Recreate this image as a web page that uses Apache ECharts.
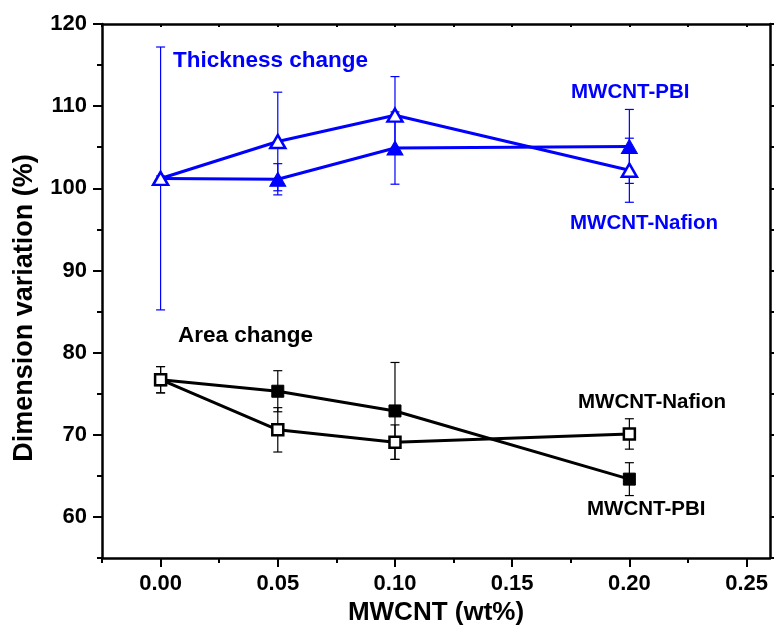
<!DOCTYPE html>
<html>
<head>
<meta charset="utf-8">
<script src="https://cdn.jsdelivr.net/npm/echarts@6/dist/echarts.min.js"></script>
<style>
  html, body { margin: 0; padding: 0; background: #fff; }
  #main { width: 778px; height: 626px; }
</style>
</head>
<body>
<div id="main"></div>
<script>
// MWCNT loading (wt%)
const xs = [0, 0.05, 0.10, 0.20]
// thickness change
const thickPBI = [101.2, 101.1, 104.9, 105.1]
const thickPBIErr = [0.3, 1.9, 4.4, 4.5]
const thickNafion = [101.2, 105.7, 108.9, 102.2]
const thickNafionErr = [16.0, 6.0, 4.7, 3.9]
// area change
const areaPBI = [76.7, 75.3, 72.9, 64.6]
const areaPBIErr = [1.6, 2.5, 5.9, 2.0]
const areaNafion = [76.7, 70.6, 69.1, 70.1]
const areaNafionErr = [1.6, 2.7, 2.1, 1.85]
// ticks
const xMajor = [0, 0.05, 0.10, 0.15, 0.20, 0.25]
const xMinor = [-0.025, 0.025, 0.075, 0.125, 0.175, 0.225]
const yMajor = [60, 70, 80, 90, 100, 110, 120]
const yMinor = [55, 65, 75, 85, 95, 105, 115]

const BLUE = '#0000ff'
const BLACK = '#000000'
const FONT = 'Liberation Sans, Arial, sans-serif'

const pts = (ys) => xs.map((x, i) => [x, ys[i]])
const errs = (ys, es) => xs.map((x, i) => [x, ys[i] - es[i], ys[i] + es[i]])

function errorBars(color, capW) {
  return function(params, api) {
    const x = api.value(0)
    const lo = api.coord([x, api.value(1)])
    const hi = api.coord([x, api.value(2)])
    const st = { stroke: color, lineWidth: 1.2 }
    return {
      type: 'group',
      children: [
        { type: 'line', shape: { x1: lo[0], y1: lo[1], x2: hi[0], y2: hi[1] }, style: st },
        { type: 'line', shape: { x1: hi[0] - capW / 2, y1: hi[1], x2: hi[0] + capW / 2, y2: hi[1] }, style: st },
        { type: 'line', shape: { x1: lo[0] - capW / 2, y1: lo[1], x2: lo[0] + capW / 2, y2: lo[1] }, style: st }
      ]
    }
  }
}

function errSeries(ys, es, color) {
  return {
    type: 'custom',
    renderItem: errorBars(color, 9),
    data: errs(ys, es),
    encode: { x: 0, y: [1, 2] },
    z: 1,
    silent: true
  }
}

function lineSeries(ys, color, symbol, size, filled) {
  return {
    type: 'line',
    data: pts(ys),
    symbol: symbol,
    symbolSize: size,
    showAllSymbol: true,
    lineStyle: { color: color, width: 3 },
    itemStyle: {
      color: filled ? color : '#fff',
      borderColor: color,
      borderWidth: filled ? 1 : 2.5
    },
    z: 3,
    animation: false
  }
}

const axisLine = { show: true, onZero: false, lineStyle: { color: BLACK, width: 2.5 } }
const noLine = { show: false, onZero: false }
const tickLabel = { fontFamily: FONT, fontWeight: 'bold', fontSize: 22, color: BLACK }

const chart = echarts.init(document.getElementById('main'))
chart.setOption({
  animation: false,
  backgroundColor: '#fff',
  grid: { left: 102, right: 8, top: 24, bottom: 68, outerBoundsMode: 'none', containLabel: false },
  xAxis: [
    {
      type: 'value', min: -0.025, max: 0.26, position: 'bottom',
      name: 'MWCNT (wt%)', nameLocation: 'middle', nameGap: 40,
      nameTextStyle: { fontFamily: FONT, fontWeight: 'bold', fontSize: 26, color: BLACK },
      axisLine: axisLine,
      axisTick: { show: true, customValues: xMajor, length: 9, lineStyle: { color: BLACK, width: 2 } },
      axisLabel: Object.assign({ customValues: xMajor, margin: 15, formatter: v => v.toFixed(2) }, tickLabel),
      splitLine: { show: false }
    },
    {
      type: 'value', min: -0.025, max: 0.26, position: 'bottom',
      axisLine: noLine,
      axisTick: { show: true, customValues: xMinor, length: 5, lineStyle: { color: BLACK, width: 2 } },
      axisLabel: { show: false },
      splitLine: { show: false }
    },
    {
      type: 'value', min: -0.025, max: 0.26, position: 'top',
      axisLine: axisLine,
      axisTick: { show: true, inside: true, customValues: xMajor.concat(xMinor), length: 3, lineStyle: { color: BLACK, width: 2 } },
      axisLabel: { show: false },
      splitLine: { show: false }
    }
  ],
  yAxis: [
    {
      type: 'value', min: 55, max: 120, position: 'left',
      axisLine: axisLine,
      axisTick: { show: true, customValues: yMajor, length: 9, lineStyle: { color: BLACK, width: 2 } },
      axisLabel: Object.assign({ customValues: yMajor, margin: 15 }, tickLabel),
      splitLine: { show: false }
    },
    {
      type: 'value', min: 55, max: 120, position: 'left',
      axisLine: noLine,
      axisTick: { show: true, customValues: yMinor, length: 5, lineStyle: { color: BLACK, width: 2 } },
      axisLabel: { show: false },
      splitLine: { show: false }
    },
    {
      type: 'value', min: 55, max: 120, position: 'right',
      axisLine: axisLine,
      axisTick: { show: true, customValues: yMajor.concat(yMinor), length: 4, lineStyle: { color: BLACK, width: 2 } },
      axisLabel: { show: false },
      splitLine: { show: false }
    }
  ],
  graphic: [
    {
      type: 'text', x: 25, y: 308, rotation: Math.PI / 2,
      style: { text: 'Dimension variation (%)', fontFamily: FONT, fontWeight: 'bold', fontSize: 27, fill: BLACK, align: 'center', verticalAlign: 'middle' }
    },
    { type: 'text', x: 173, y: 61, style: { text: 'Thickness change', fontFamily: FONT, fontWeight: 'bold', fontSize: 22.5, fill: BLUE, verticalAlign: 'middle' } },
    { type: 'text', x: 571, y: 92, style: { text: 'MWCNT-PBI', fontFamily: FONT, fontWeight: 'bold', fontSize: 20.5, fill: BLUE, verticalAlign: 'middle' } },
    { type: 'text', x: 570, y: 223, style: { text: 'MWCNT-Nafion', fontFamily: FONT, fontWeight: 'bold', fontSize: 20.5, fill: BLUE, verticalAlign: 'middle' } },
    { type: 'text', x: 178, y: 336, style: { text: 'Area change', fontFamily: FONT, fontWeight: 'bold', fontSize: 22.5, fill: BLACK, verticalAlign: 'middle' } },
    { type: 'text', x: 578, y: 402, style: { text: 'MWCNT-Nafion', fontFamily: FONT, fontWeight: 'bold', fontSize: 20.5, fill: BLACK, verticalAlign: 'middle' } },
    { type: 'text', x: 587, y: 509, style: { text: 'MWCNT-PBI', fontFamily: FONT, fontWeight: 'bold', fontSize: 20.5, fill: BLACK, verticalAlign: 'middle' } }
  ],
  series: [
    errSeries(thickPBI, thickPBIErr, BLUE),
    errSeries(thickNafion, thickNafionErr, BLUE),
    errSeries(areaPBI, areaPBIErr, BLACK),
    errSeries(areaNafion, areaNafionErr, BLACK),
    lineSeries(thickPBI, BLUE, 'triangle', [16, 14], true),
    lineSeries(thickNafion, BLUE, 'triangle', [15, 13], false),
    lineSeries(areaPBI, BLACK, 'rect', 12, true),
    lineSeries(areaNafion, BLACK, 'rect', 11, false)
  ]
})
</script>
</body>
</html>
